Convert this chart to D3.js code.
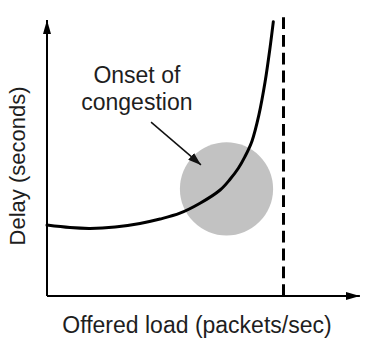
<!DOCTYPE html>
<html>
<head>
<meta charset="utf-8">
<script src="https://cdn.jsdelivr.net/npm/d3@7"></script>
<style>
  html, body { margin: 0; padding: 0; background: #fff; }
  svg { display: block; }
  text { font-family: "Liberation Sans", Arial, Helvetica, sans-serif; fill: #1e1e1e; }
</style>
</head>
<body>
<svg id="chart" width="383" height="357"></svg>
<script>
// ---- data (offered load as fraction of capacity, delay in arbitrary units) ----
const loadValues  = [0, 0.097, 0.182, 0.288, 0.393, 0.478, 0.562, 0.647, 0.732, 0.774, 0.809, 0.837, 0.867, 0.896, 0.922, 0.943, 0.957];
const delayValues = [2.57, 2.48, 2.45, 2.50, 2.63, 2.79, 3.00, 3.36, 3.84, 4.23, 4.63, 5.05, 5.62, 6.56, 7.75, 8.99, 9.94];
const capacity = [1.0];                 // dashed vertical line
const onset = [0.759, 3.88, 0.197];     // circle centre (load, delay) and radius in load units
const arrowFrom = [0.44, 6.30];
const arrowTo = [0.651, 4.75];
const noteLines = ["Onset of", "congestion"];
const noteAnchor = [0.38, 7.72, 6.74];  // x, baseline line1, baseline line2 (data units)
const xLabel = "Offered load (packets/sec)";
const yLabel = "Delay (seconds)";
const xMax = 1.323, yMax = 10;

const svg = d3.select("#chart");
const x = d3.scaleLinear().domain([0, 1]).range([47, 283.5]);
const y = d3.scaleLinear().domain([0, yMax]).range([296, 20]);

const defs = svg.append("defs");
defs.append("marker").attr("id", "axisHead")
  .attr("viewBox", "0 0 14 8").attr("refX", 14).attr("refY", 4)
  .attr("markerWidth", 14).attr("markerHeight", 8)
  .attr("markerUnits", "userSpaceOnUse").attr("orient", "auto")
  .append("path").attr("d", "M0,0 L14,4 L0,8 Z").attr("fill", "#000");
defs.append("marker").attr("id", "noteHead")
  .attr("viewBox", "0 0 13 9").attr("refX", 13).attr("refY", 4.5)
  .attr("markerWidth", 13).attr("markerHeight", 9)
  .attr("markerUnits", "userSpaceOnUse").attr("orient", "auto")
  .append("path").attr("d", "M0,0 L13,4.5 L0,9 Z").attr("fill", "#111");

// onset circle
svg.append("circle")
  .attr("cx", x(onset[0])).attr("cy", y(onset[1]))
  .attr("r", x(onset[0] + onset[2]) - x(onset[0]))
  .attr("fill", "#c2c2c2");

// capacity dashed line
svg.selectAll(".cap").data(capacity).enter().append("line")
  .attr("x1", d => x(d)).attr("x2", d => x(d))
  .attr("y1", y(0)).attr("y2", y(yMax * 1.03))
  .attr("stroke", "#000").attr("stroke-width", 3)
  .attr("stroke-dasharray", "11.8 6").attr("stroke-dashoffset", 0);

// axes
svg.append("line").attr("x1", x(0)).attr("y1", y(0)).attr("x2", x(xMax)).attr("y2", y(0))
  .attr("stroke", "#000").attr("stroke-width", 2).attr("marker-end", "url(#axisHead)");
svg.append("line").attr("x1", x(0)).attr("y1", y(0)).attr("x2", x(0)).attr("y2", y(yMax))
  .attr("stroke", "#000").attr("stroke-width", 2).attr("marker-end", "url(#axisHead)");

// delay curve
const pts = loadValues.map((v, i) => [v, delayValues[i]]);
svg.append("path").datum(pts)
  .attr("d", d3.line().x(d => x(d[0])).y(d => y(d[1])).curve(d3.curveCatmullRom.alpha(0.5)))
  .attr("fill", "none").attr("stroke", "#000").attr("stroke-width", 3).attr("stroke-linecap", "round");

// annotation arrow
svg.append("line")
  .attr("x1", x(arrowFrom[0])).attr("y1", y(arrowFrom[1]))
  .attr("x2", x(arrowTo[0])).attr("y2", y(arrowTo[1]))
  .attr("stroke", "#111").attr("stroke-width", 1.5).attr("marker-end", "url(#noteHead)");

// annotation text
svg.selectAll(".note").data(noteLines).enter().append("text")
  .attr("x", x(noteAnchor[0])).attr("y", (d, i) => y(noteAnchor[i + 1]))
  .attr("text-anchor", "middle").attr("font-size", 23).text(d => d);

// axis labels
svg.append("text").attr("x", 197).attr("y", 333).attr("text-anchor", "middle")
  .attr("font-size", 23).text(xLabel);
svg.append("text").attr("transform", "translate(25,166) rotate(-90)")
  .attr("text-anchor", "middle").attr("font-size", 22).text(yLabel);
</script>
</body>
</html>
